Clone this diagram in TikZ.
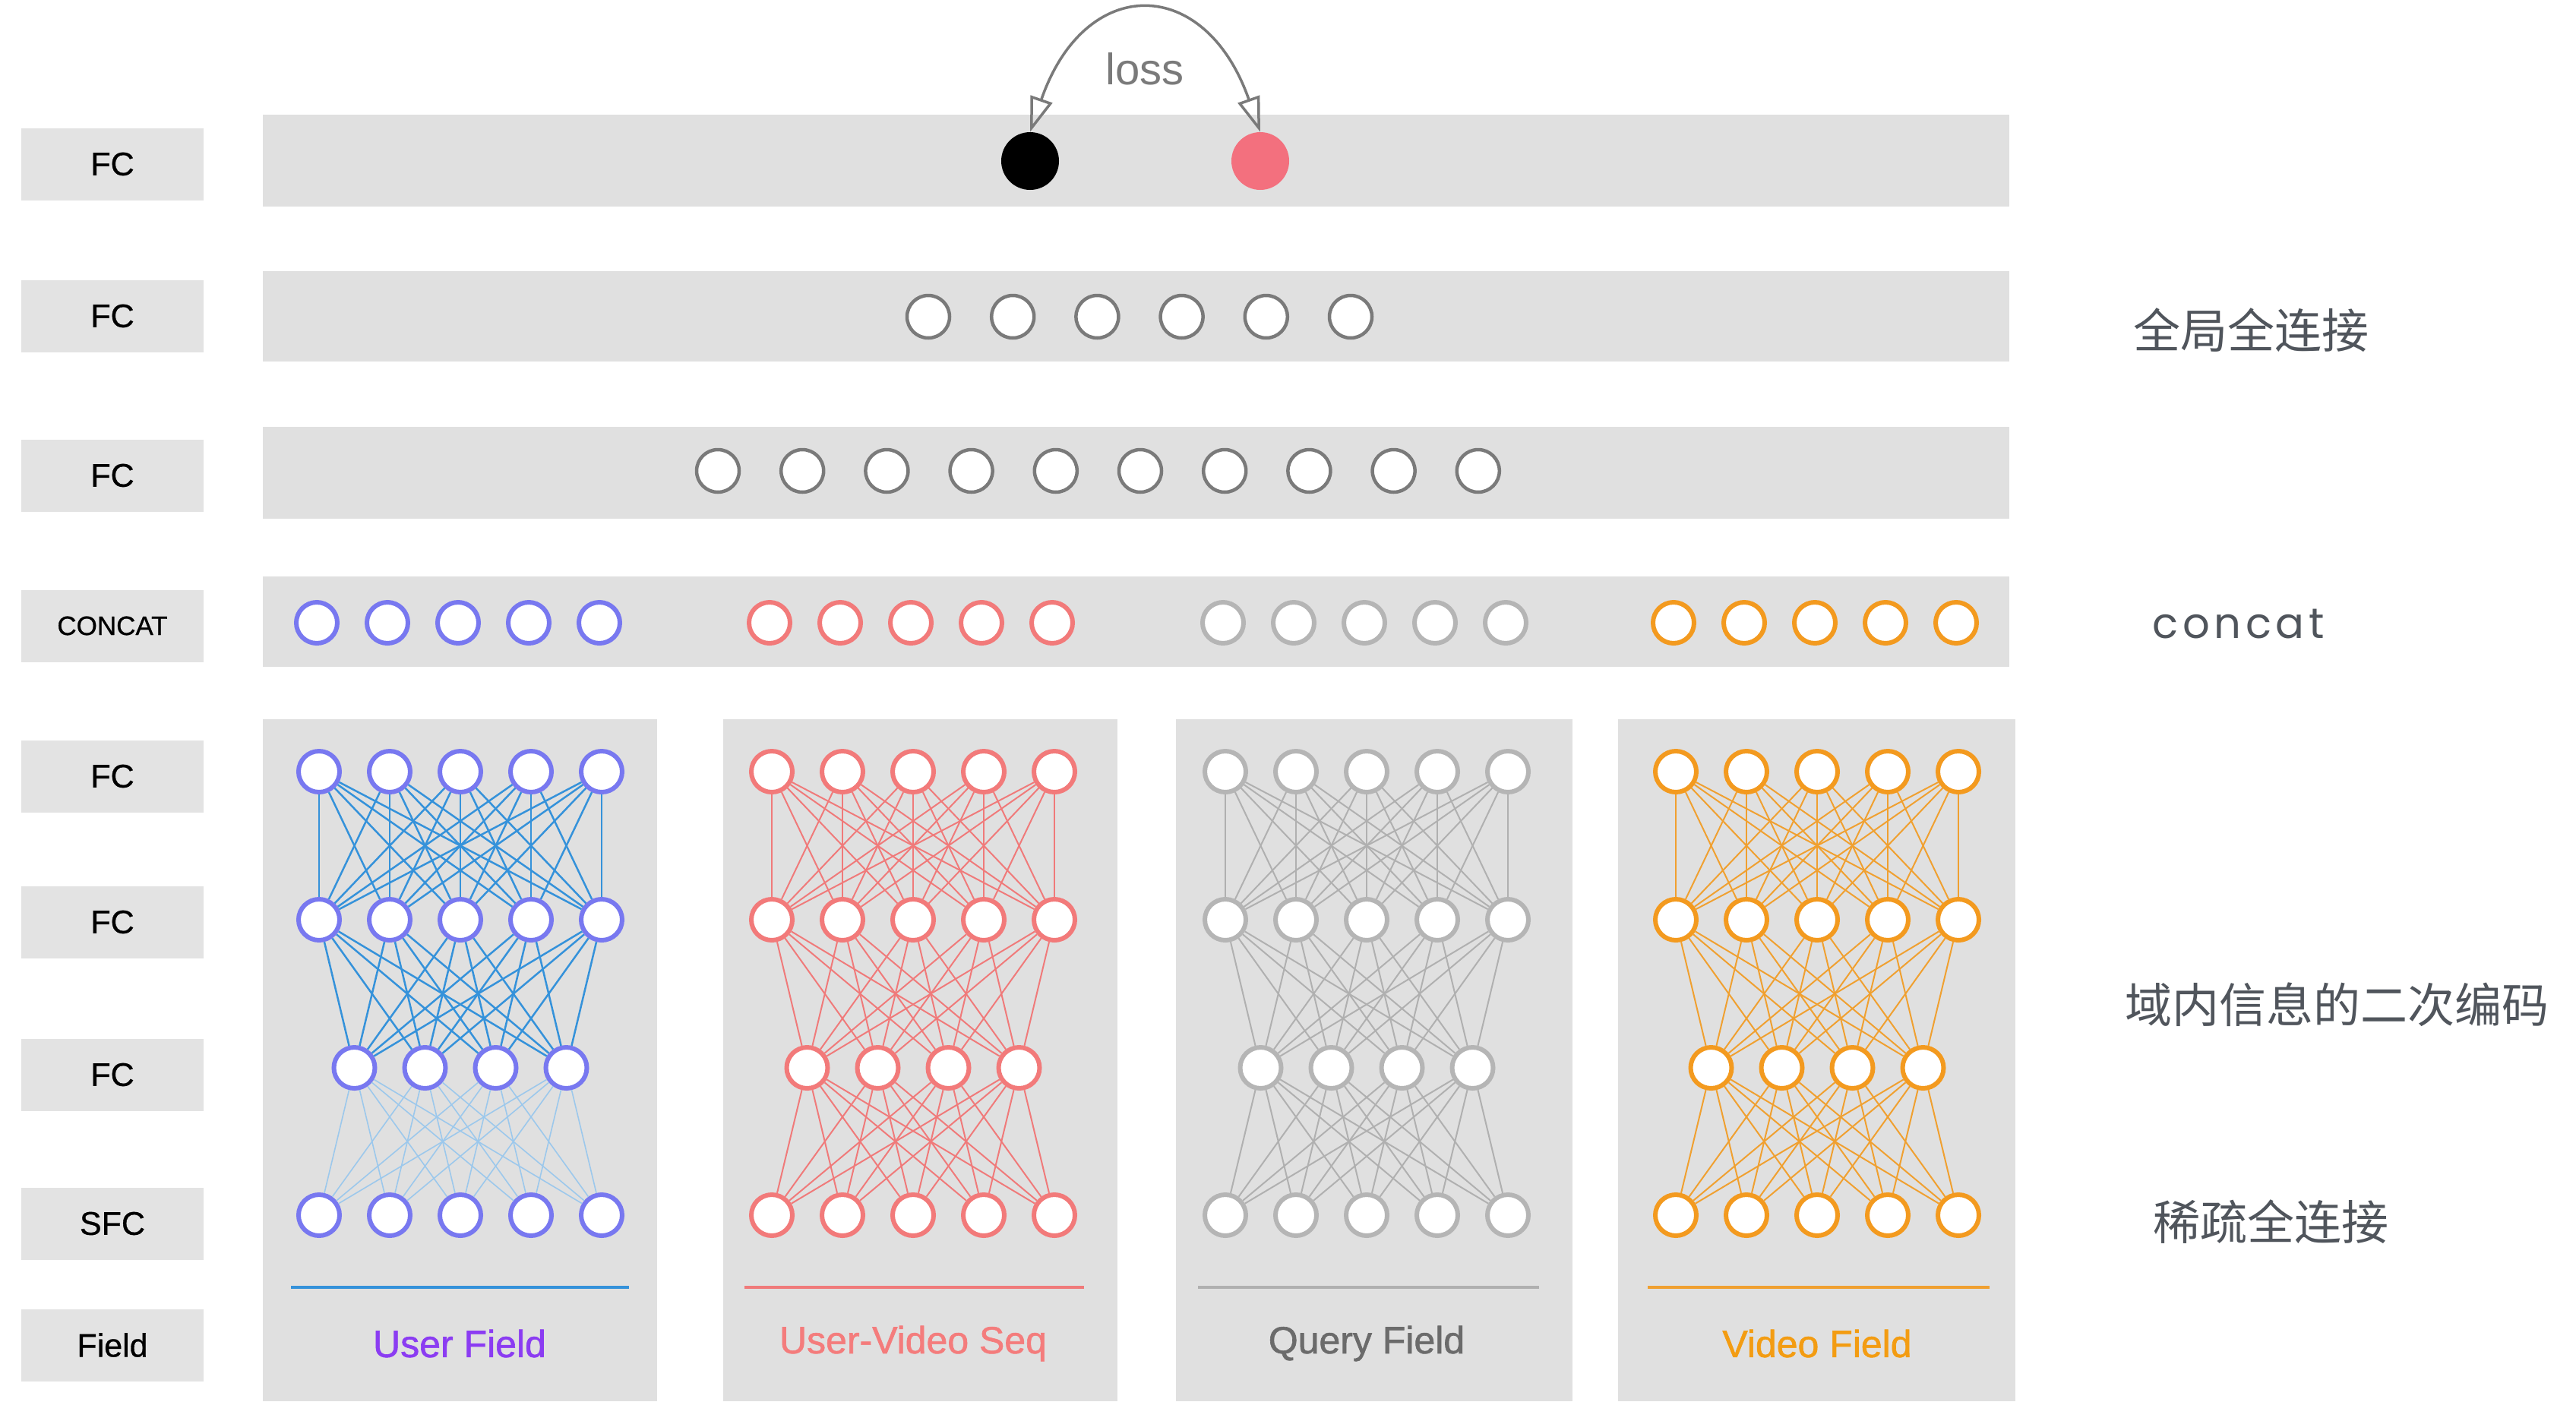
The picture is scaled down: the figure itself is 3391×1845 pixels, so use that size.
\documentclass[tikz,border=0pt]{standalone}
\usepackage{fontspec}
\setmainfont{Liberation Sans}
\newfontfamily\semib{Liberation Sans}[FakeBold=1.2]
\newfontfamily\labf{Liberation Sans}[FakeBold=0.8]
\newfontfamily\cjk{Noto Sans CJK SC}
\newfontfamily\geo{Poppins}[LetterSpace=10]
\usetikzlibrary{arrows.meta}
\definecolor{bg}{HTML}{E0E0E0}
\definecolor{lab}{HTML}{E3E3E3}
\definecolor{ringgray}{HTML}{7A7A7A}
\definecolor{cblue}{HTML}{7878F0}
\definecolor{cred}{HTML}{F27A7A}
\definecolor{cgray}{HTML}{B5B5B5}
\definecolor{corange}{HTML}{F39A1F}
\definecolor{lblue}{HTML}{3592DA}
\definecolor{lblue2}{HTML}{9CC8EC}
\definecolor{lred}{HTML}{F07A7A}
\definecolor{lgray}{HTML}{B0B0B0}
\definecolor{lorange}{HTML}{F0A030}
\definecolor{tpurple}{HTML}{8B3CF2}
\definecolor{tred}{HTML}{F47C7C}
\definecolor{tgray}{HTML}{6B6B6B}
\definecolor{torange}{HTML}{F39C12}
\definecolor{side}{HTML}{50555C}
\definecolor{pinkc}{HTML}{F3707E}
\definecolor{lossc}{HTML}{7A7A7A}
\newcommand\fieldnet[5]{%
  \foreach \i in {1,...,5} {
    \node[neuron, draw=#3] (#1a\i) at ({#2+(\i-1)*93},1016) {};
    \node[neuron, draw=#3] (#1b\i) at ({#2+(\i-1)*93},1211) {};
    \node[neuron, draw=#3] (#1d\i) at ({#2+(\i-1)*93},1600) {};
  }
  \foreach \i in {1,...,4}
    \node[neuron, draw=#3] (#1c\i) at ({#2+46.5+(\i-1)*93},1406) {};
  \foreach \i in {1,...,5} \foreach \j in {1,...,5} \draw[#4] (#1a\i) -- (#1b\j);
  \foreach \i in {1,...,5} \foreach \j in {1,...,4} \draw[#4] (#1b\i) -- (#1c\j);
  \foreach \i in {1,...,4} \foreach \j in {1,...,5} \draw[#5] (#1c\i) -- (#1d\j);
}
\begin{document}
\begin{tikzpicture}[x=1pt,y=-1pt,
  lbl/.style={fill=lab, minimum width=240, minimum height=95, inner sep=0, font=\labf\fontsize{43}{50}\selectfont},
  barbox/.style={fill=bg, minimum width=2299, inner sep=0},
  colbox/.style={fill=bg, minimum height=898, inner sep=0},
  neuron/.style={circle, fill=white, minimum size=54, inner sep=0, line width=6},
  ring/.style={circle, fill=white, draw=ringgray, minimum size=56, inner sep=0, line width=4.5},
  sidetxt/.style={text=side, font=\cjk\fontsize{62}{70}\selectfont, anchor=west},
  fieldtxt/.style={font=\semib\fontsize{50}{60}\selectfont},
  ublue/.style={draw=lblue, line width=2.5},
  ublue2/.style={draw=lblue2, line width=1.6},
  ured/.style={draw=lred, line width=2},
  ugray/.style={draw=lgray, line width=2},
  uorange/.style={draw=lorange, line width=2},
  lossarrow/.style={draw=lossc, line width=3.5,
    {Triangle[open, length=46, width=30]}-{Triangle[open, length=46, width=30]}}
]
\useasboundingbox (0,0) rectangle (3391,1845);
\fill[white] (0,0) rectangle (3391,1845);

% left labels
\node[lbl] (l1) at (148,216) {FC};
\node[lbl] (l2) at (148,416) {FC};
\node[lbl] (l3) at (148,626) {FC};
\node[lbl, font=\labf\fontsize{35}{40}\selectfont] (l4) at (148,824) {CONCAT};
\node[lbl] (l5) at (148,1022) {FC};
\node[lbl] (l6) at (148,1214) {FC};
\node[lbl] (l7) at (148,1415) {FC};
\node[lbl] (l8) at (148,1611) {SFC};
\node[lbl] (l9) at (148,1771) {Field};

% bars
\node[barbox, minimum height=121] (bar1) at (1495.5,211.5) {};
\node[barbox, minimum height=119] (bar2) at (1495.5,416.5) {};
\node[barbox, minimum height=121] (bar3) at (1495.5,622.5) {};
\node[barbox, minimum height=119] (bar4) at (1495.5,818.5) {};

% columns
\node[colbox, minimum width=519] (col1) at (605.5,1396) {};
\node[colbox, minimum width=519] (col2) at (1211.5,1396) {};
\node[colbox, minimum width=522] (col3) at (1809,1396) {};
\node[colbox, minimum width=523] (col4) at (2391.5,1396) {};

% top output
\node[circle, fill=black, minimum size=76, inner sep=0] (blk) at (1356,212) {};
\node[circle, fill=pinkc, minimum size=76, inner sep=0] (pnk) at (1659,212) {};
\draw[lossarrow] (blk.north) .. controls (1428,-34) and (1586,-34) .. (pnk.north);
\node[text=lossc, font=\fontsize{58}{66}\selectfont] (loss) at (1507,91) {loss};

% FC rows
\foreach \i in {1,...,6} \node[ring] (g\i) at ({1222+(\i-1)*111.2},417) {};
\foreach \i in {1,...,10} \node[ring] (h\i) at ({945+(\i-1)*111.2},620) {};

% concat row
\foreach \i in {1,...,5} {
  \node[neuron, draw=cblue] (cb\i) at ({417+(\i-1)*93},820) {};
  \node[neuron, draw=cred] (cr\i) at ({1013+(\i-1)*93},820) {};
  \node[neuron, draw=cgray] (cg\i) at ({1610+(\i-1)*93},820) {};
  \node[neuron, draw=corange] (co\i) at ({2203+(\i-1)*93},820) {};
}

% field networks
\fieldnet{u}{420}{cblue}{ublue}{ublue2}
\fieldnet{r}{1016}{cred}{ured}{ured}
\fieldnet{q}{1613}{cgray}{ugray}{ugray}
\fieldnet{v}{2206}{corange}{uorange}{uorange}

% field underlines
\draw[draw=lblue, line width=3.5] (383,1695) -- (828,1695);
\draw[draw=lred, line width=3.5] (980,1695) -- (1427,1695);
\draw[draw=lgray, line width=3.5] (1577,1695) -- (2026,1695);
\draw[draw=lorange, line width=3.5] (2169,1695) -- (2619,1695);

% field labels
\node[fieldtxt, text=tpurple] (f1) at (605,1769) {User Field};
\node[fieldtxt, text=tred] (f2) at (1202,1769) {User-Video Seq};
\node[fieldtxt, text=tgray] (f3) at (1799,1769) {Query Field};
\node[fieldtxt, text=torange] (f4) at (2392,1769) {Video Field};

% side texts
\node[sidetxt] (s1) at (2805,435) {全局全连接};
\node[text=side, font=\geo\fontsize{56}{64}\selectfont, anchor=west] (s2) at (2830,822) {concat};
\node[sidetxt] (s3) at (2794,1323) {域内信息的二次编码};
\node[sidetxt] (s4) at (2831,1609) {稀疏全连接};
\end{tikzpicture}
\end{document}
